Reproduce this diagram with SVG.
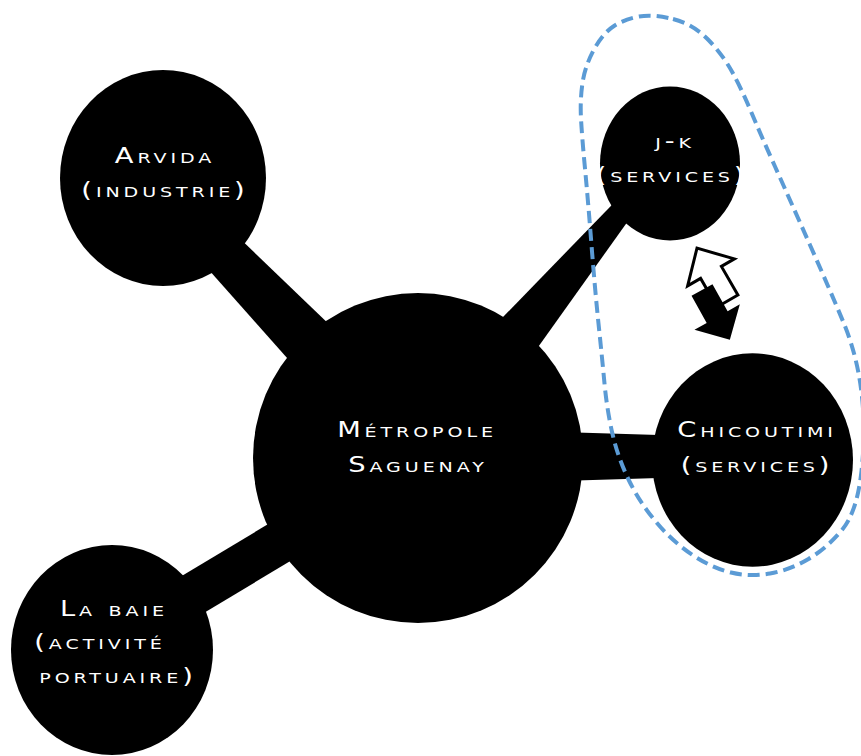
<svg xmlns="http://www.w3.org/2000/svg" width="861" height="756" viewBox="0 0 861 756">
<style>
.node{fill:#000}
.lbl{fill:#fff;font-family:"DejaVu Sans",sans-serif;font-size:21px;font-variant:small-caps;letter-spacing:3px;text-anchor:middle}
.conn{fill:#000}
.grp{fill:none;stroke:#5B9BD5;stroke-width:4;stroke-dasharray:12 6}
</style>
<rect width="861" height="756" fill="#fff"/>
<g id="connectors">
<polygon class="conn" points="183,184 386.6,379.5 313.7,387.9 158.9,213.7"/>
<polygon class="conn" points="470,351 640,176 653,186 496,406"/>
<polygon class="conn" points="560,431.9 700,436.3 700,476.7 560,481.1"/>
<polygon class="conn" points="116.6,615 316.7,495 338.8,532 138.7,652"/>
</g>
<g id="arvida">
<ellipse class="node" cx="163" cy="178" rx="103" ry="108"/>
<text class="lbl" transform="translate(165,163) scale(1.3,1)">Arvida</text>
<text class="lbl" transform="translate(165,197) scale(1.3,1)">(industrie)</text>
</g>
<g id="metropole">
<ellipse class="node" cx="418" cy="458" rx="165" ry="165"/>
<text class="lbl" transform="translate(417,437) scale(1.3,1)">Métropole</text>
<text class="lbl" transform="translate(418,472) scale(1.3,1)">Saguenay</text>
</g>
<g id="jk">
<ellipse class="node" cx="670" cy="163.5" rx="70" ry="77"/>
<text class="lbl" transform="translate(675,148) scale(1.3,1)">j-k</text>
<text class="lbl" transform="translate(672,182) scale(1.3,1)">(services)</text>
</g>
<g id="chicoutimi">
<ellipse class="node" cx="752.5" cy="460" rx="100.5" ry="106.7"/>
<text class="lbl" transform="translate(757,437) scale(1.3,1)">Chicoutimi</text>
<text class="lbl" transform="translate(757,472) scale(1.3,1)">(services)</text>
</g>
<g id="labaie">
<ellipse class="node" cx="112" cy="650" rx="101" ry="105"/>
<text class="lbl" transform="translate(114,616) scale(1.3,1)">La baie</text>
<text class="lbl" transform="translate(100,649) scale(1.3,1)">(activité</text>
<text class="lbl" transform="translate(118,683) scale(1.3,1)">portuaire)</text>
</g>
<g id="arrows">
<path transform="translate(727.5,301) rotate(240)" d="M0,-12 L33,-12 L33,-27 L61,0 L33,27 L33,12 L0,12 Z" fill="#fff" stroke="#000" stroke-width="3" stroke-linejoin="miter"/>
<path transform="translate(702,290) rotate(60.75)" d="M0,-12 L31,-12 L31,-26 L57,0 L31,26 L31,12 L0,12 Z" fill="#000"/>
</g>
<g id="group-outline">
<path class="grp" d="M673,19 Q693,24 708,39.5 Q723,55 732.5,72.5 Q742,90 751,111.5 Q760,133 775,166.5 Q790,200 810,245 Q830,290 843.5,322.5 Q857,355 861.5,392.5 Q866,430 861.5,471 Q857,512 842,530 Q827,548 808.5,559 Q790,570 770,573.5 Q750,577 731,572.5 Q712,568 692.5,555 Q673,542 656.5,522.5 Q640,503 629,480.5 Q618,458 612.5,434 Q607,410 604.5,383.5 Q602,357 598.5,323.5 Q595,290 591.5,245 Q588,200 585,168.5 Q582,137 581,118.5 Q580,100 582.5,83 Q585,66 594,49.5 Q603,33 614,26 Q625,19 639,16.5 Q653,14 673,19 Z"/>
</g>
</svg>
